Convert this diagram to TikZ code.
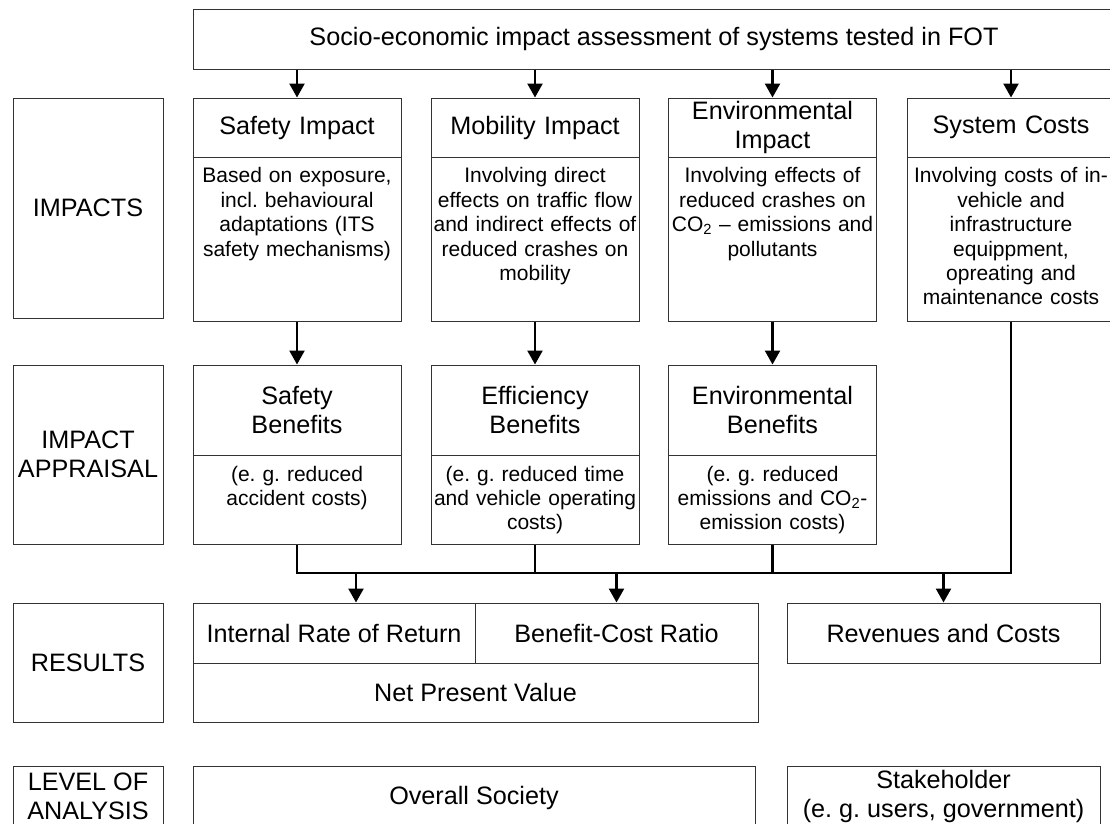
\documentclass[tikz,border=0pt]{standalone}
\usepackage{fontspec}
\setmainfont{Liberation Sans}
\usetikzlibrary{arrows.meta}
\hyphenpenalty=10000
\frenchspacing

\tikzset{
  box/.style={draw=black!80, line width=1pt, inner sep=1pt, align=center},
  big/.style={font=\fontsize{25.2}{29}\selectfont},
  small/.style={font=\fontsize{21}{24.4}\selectfont},
  label/.style={box, big, minimum width=150pt},
  head/.style={box, big, minimum width=208pt, text width=204pt},
  body/.style={box, small, anchor=north, minimum width=208pt, text width=208pt, inner sep=0pt},
  flow/.style={line width=2.4pt, -{Triangle[length=14pt,width=15pt]}},
  bus/.style={line width=2.6pt},
}

\begin{document}
\begin{tikzpicture}[x=1pt,y=-1pt]

\useasboundingbox (0,0) rectangle (1110,823);

\node[box,big,minimum width=922pt,minimum height=60pt] (fot) at (654,39) {Socio-economic impact assessment of systems tested in FOT};

\node[label,minimum height=220pt] (limp) at (88,208) {IMPACTS};
\node[label,minimum height=179pt] (lapp) at (88,454.5) {IMPACT\\APPRAISAL};
\node[label,minimum height=119pt] (lres) at (88,662.5) {RESULTS};
\node[label,anchor=north,inner sep=0pt,text height=53pt,text depth=7pt] (llev) at (88,766) {LEVEL OF\\ANALYSIS};

\node[head,minimum height=59pt] (safe) at (297,127.5) {Safety Impact};
\node[body,text height=25.4pt,text depth=138.6pt] (safeb) at (297,157) {Based on exposure,\\incl. behavioural\\adaptations (ITS\\safety mechanisms)};

\node[head,minimum height=59pt] (mob) at (535,127.5) {Mobility Impact};
\node[body,text height=25.4pt,text depth=138.6pt] (mobb) at (535,157) {Involving direct\\effects on traffic flow\\and indirect effects of\\reduced crashes on\\mobility};

\node[head,minimum height=59pt] (env) at (772.5,127.5) {Environmental\\Impact};
\node[body,text height=25.4pt,text depth=138.6pt] (envb) at (772.5,157) {Involving effects of\\reduced crashes on\\CO\textsubscript{2} – emissions and\\pollutants};

\node[head,minimum height=59pt] (cost) at (1011,127.5) {System Costs};
\node[body,text height=25.4pt,text depth=138.6pt] (costb) at (1011,157) {Involving costs of in-\\vehicle and\\infrastructure\\equippment,\\opreating and\\maintenance costs};

\node[head,minimum height=90pt] (sben) at (297,410) {Safety\\Benefits};
\node[body,text height=25.5pt,text depth=63.5pt] (sbenb) at (297,455) {(e. g. reduced\\accident costs)};

\node[head,minimum height=90pt] (eff) at (535,410) {Efficiency\\Benefits};
\node[body,text height=25.5pt,text depth=63.5pt] (effb) at (535,455) {(e. g. reduced time\\and vehicle operating\\costs)};

\node[head,minimum height=90pt] (eben) at (772.5,410) {Environmental\\Benefits};
\node[body,text height=25.5pt,text depth=63.5pt] (ebenb) at (772.5,455) {(e. g. reduced\\emissions and CO\textsubscript{2}-\\emission costs)};

\node[box,big,minimum width=282pt,minimum height=60pt] (irr) at (334,633) {Internal Rate of Return};
\node[box,big,minimum width=283pt,minimum height=60pt] (bcr) at (616.5,633) {Benefit-Cost Ratio};
\node[box,big,minimum width=565pt,minimum height=59pt] (npv) at (475.5,692.5) {Net Present Value};
\node[box,big,minimum width=313pt,minimum height=60pt] (rev) at (943.5,633) {Revenues and Costs};

\node[box,big,anchor=north,minimum width=562pt,inner sep=0pt,text height=38pt,text depth=22pt] (soc) at (474,766) {Overall Society};
\node[box,big,anchor=north,minimum width=313pt,inner sep=0pt,text height=51pt,text depth=9pt] (stake) at (943.5,766) {Stakeholder\\(e. g. users, government)};

\draw[flow] (fot.south -| safe.north) -- (safe.north);
\draw[flow] (fot.south -| mob.north) -- (mob.north);
\draw[flow] (fot.south -| env.north) -- (env.north);
\draw[flow] (fot.south -| cost.north) -- (cost.north);

\draw[flow] (safeb.south) -- (sben.north);
\draw[flow] (mobb.south) -- (eff.north);
\draw[flow] (envb.south) -- (eben.north);

\coordinate (busa) at (356,573);
\coordinate (busb) at (616.5,573);
\coordinate (busc) at (943.5,573);

\draw[bus] (sbenb.south) -- (sbenb.south |- busa) -- (costb.south |- busa) -- (costb.south);
\draw[bus] (effb.south) -- (effb.south |- busa);
\draw[bus] (ebenb.south) -- (ebenb.south |- busa);

\draw[flow] (busa) -- (busa |- irr.north);
\draw[flow] (busb) -- (bcr.north);
\draw[flow] (busc) -- (rev.north);

\end{tikzpicture}
\end{document}
